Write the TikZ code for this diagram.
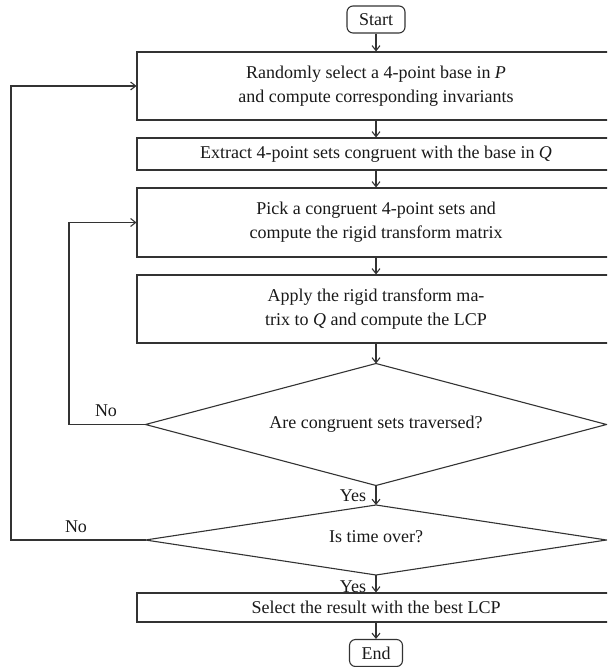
\documentclass[tikz,border=0pt]{standalone}
\usepackage{fontspec}
\setmainfont{Liberation Serif}
\usetikzlibrary{arrows.meta}
\begin{document}
\begin{tikzpicture}[x=0.5pt,y=-0.5pt,
  every node/.style={font=\fontsize{9}{12}\selectfont, text=black!90},
  ln/.style={draw=black!80, line width=0.55pt},
  arr/.style={ln, -{Straight Barb[length=2.5pt,width=4pt]}},
  proc/.style={ln, rectangle, minimum width=239pt, inner sep=0pt, align=center},
  term/.style={ln, rectangle, rounded corners=3pt, minimum height=13.5pt, inner xsep=6pt, inner ysep=0pt},
  lab/.style={inner sep=0pt}]
\useasboundingbox (0,0) rectangle (607,667);
\clip (0,0) rectangle (607,667);
\node[term] (start) at (376,19.5) {Start};
\node[proc, minimum height=34pt] (b1) at (376,86) {Randomly select a 4-point base in \textit{P}\\and compute corresponding invariants};
\node[proc, minimum height=16pt] (b2) at (376,154) {Extract 4-point sets congruent with the base in \textit{Q}};
\node[proc, minimum height=34.5pt] (b3) at (376,222.5) {Pick a congruent 4-point sets and\\compute the rigid transform matrix};
\node[proc, minimum height=34pt] (b4) at (376,309) {Apply the rigid transform ma-\\trix to \textit{Q} and compute the LCP};
% decision 1
\node[lab] (d1) at (376,424.5) {Are congruent sets traversed?};
\coordinate (d1n) at (376,363.5);
\coordinate (d1s) at (376,485.5);
\coordinate (d1w) at (145.5,424.5);
\coordinate (d1e) at (606.5,424.5);
\draw[ln] (d1n) -- (d1e) -- (d1s) -- (d1w) -- cycle;
% decision 2
\node[lab] (d2) at (376,537) {Is time over?};
\coordinate (d2n) at (376,505);
\coordinate (d2s) at (376,575);
\coordinate (d2w) at (145.5,540);
\coordinate (d2e) at (606.5,540);
\draw[ln] (d2n) -- (d2e) -- (d2s) -- (d2w) -- cycle;
\node[proc, minimum height=14.5pt] (b5) at (376,607.5) {Select the result with the best LCP};
\node[term] (end) at (376,653) {End};
\node[lab] (no1) at (106,411) {No};
\node[lab] (no2) at (76,527) {No};
\node[lab] (yes1) at (353,496) {Yes};
\node[lab] (yes2) at (353,587) {Yes};
\coordinate (c1) at (69,424.5);
\coordinate (c2) at (11,540);
\draw[arr] (start) -- (b1);
\draw[arr] (b1) -- (b2);
\draw[arr] (b2) -- (b3);
\draw[arr] (b3) -- (b4);
\draw[arr] (b4) -- (d1n);
\draw[arr] (d1s) -- (d2n);
\draw[arr] (d2s) -- (b5);
\draw[arr] (b5) -- (end);
\draw[arr] (d1w) -- (c1) |- (b3.west);
\draw[arr] (d2w) -- (c2) |- (b1.west);
\end{tikzpicture}
\end{document}
